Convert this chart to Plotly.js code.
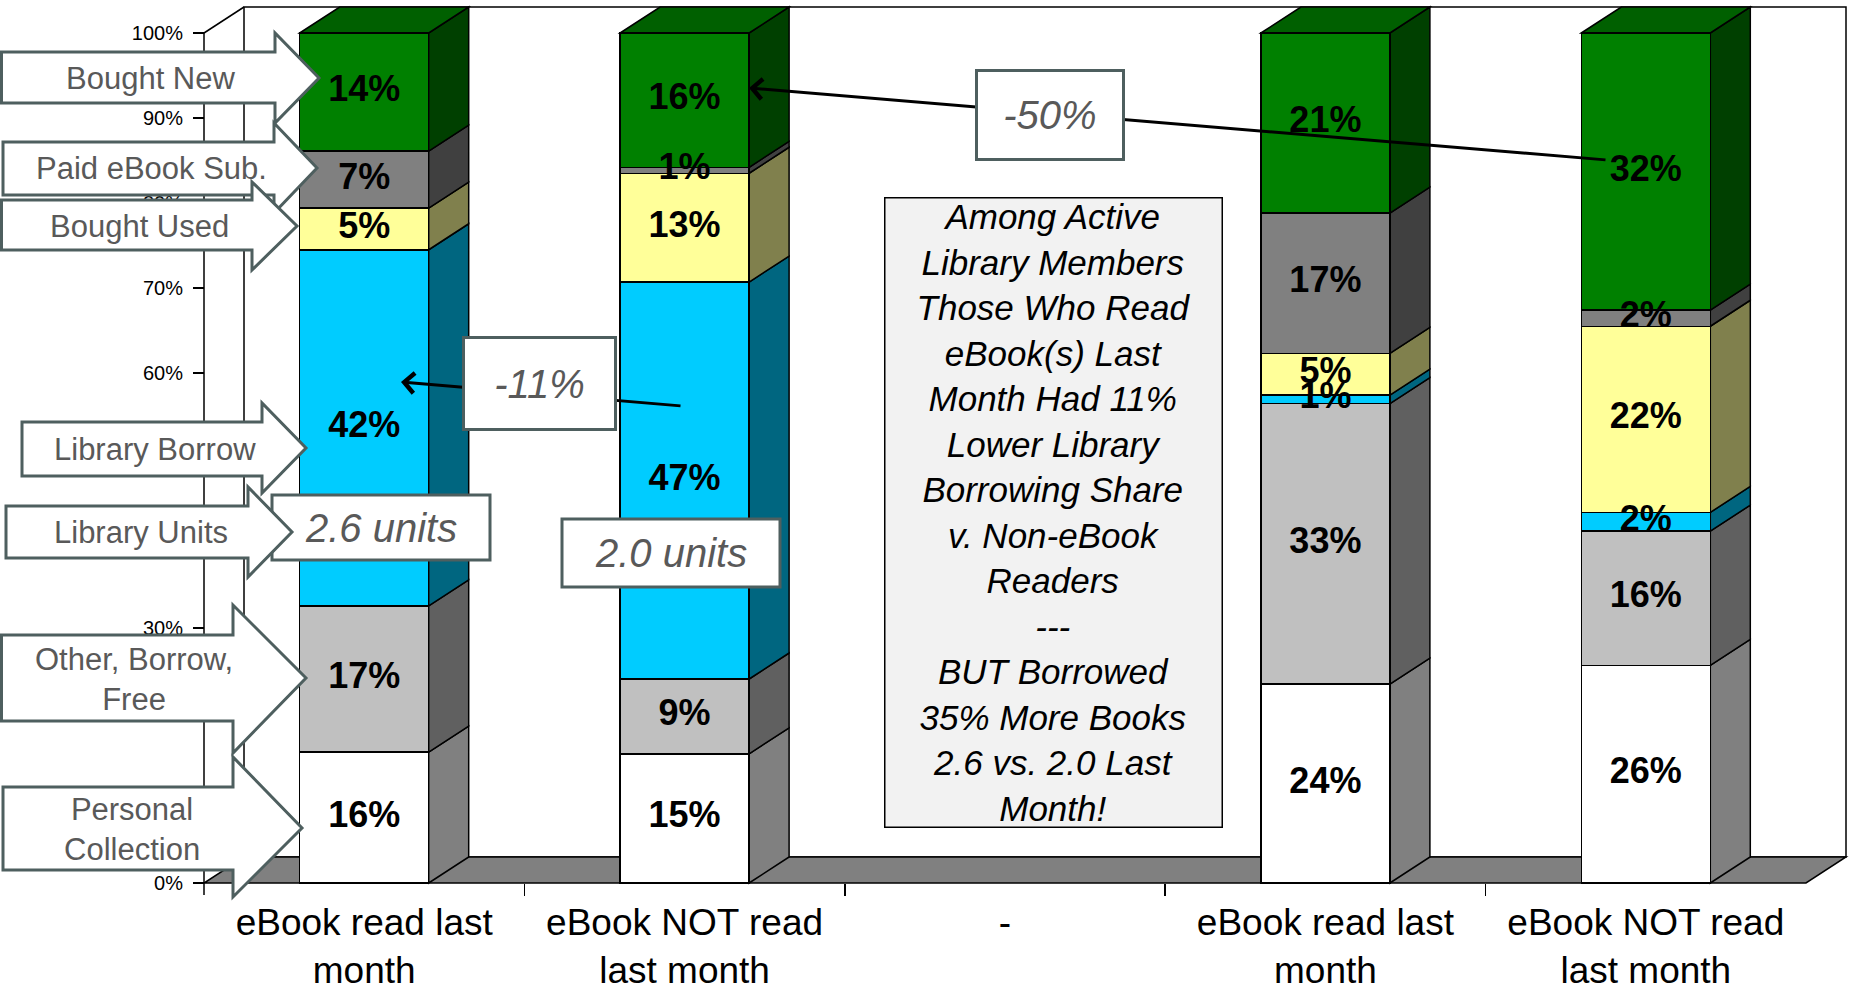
<!DOCTYPE html>
<html>
<head>
<meta charset="utf-8">
<script src="https://cdn.plot.ly/plotly-3.0.1.min.js"></script>
<style>
html,body{margin:0;padding:0;background:#ffffff;overflow:hidden;}
#chart{width:1853px;height:989px;}
</style>
</head>
<body>
<div id="chart"></div>
<script>
// ------------------------- DATA -------------------------
const categories = [
  "eBook read last<br>month",
  "eBook NOT read<br>last month",
  "-",
  "eBook read last<br>month",
  "eBook NOT read<br>last month"
];
const seriesNames = ["Personal Collection", "Other, Borrow, Free", "Library Borrow",
                     "Bought Used", "Paid eBook Sub.", "Bought New"];
// shares (%), bottom segment first
const personal   = [15.4, 15.2, null, 23.4, 25.6];
const otherFree  = [17.2,  8.8, null, 33.0, 15.8];
const libBorrow  = [41.9, 46.7, null,  1.0,  2.2];
const boughtUsed = [ 4.9, 12.8, null,  4.9, 21.9];
const paidSub    = [ 6.7,  0.7, null, 16.5,  1.9];
const boughtNew  = [13.9, 15.8, null, 21.2, 32.6];
// data labels as printed on the chart
const personalLbl = ["16%", "15%", "", "24%", "26%"];
const otherLbl    = ["17%", "9%",  "", "33%", "16%"];
const borrowLbl   = ["42%", "47%", "", "1%",  "2%"];
const usedLbl     = ["5%",  "13%", "", "5%",  "22%"];
const paidLbl     = ["7%",  "1%",  "", "17%", "2%"];
const newLbl      = ["14%", "16%", "", "21%", "32%"];
const yTickVals   = [0, 10, 20, 30, 40, 50, 60, 70, 80, 90, 100];
const yTickText   = ["0%", "10%", "20%", "30%", "40%", "50%", "60%", "70%", "80%", "90%", "100%"];

// ------------------------- STYLE / LAYOUT -------------------------
const FONT = "Liberation Sans, Arial, sans-serif";
const frontColors = ["#FFFFFF", "#C0C0C0", "#00CCFF", "#FFFF99", "#808080", "#008000"];
const sideColors  = ["#808080", "#606060", "#006680", "#80804D", "#404040", "#004000"];
const topColors   = ["#C0C0C0", "#909090", "#0099C0", "#C0C073", "#606060", "#006000"];
const CALLOUT_LINE = "#4E5F5F";
const CALLOUT_TEXT = "#595959";

const W = 1853, H = 989;
const EDGE_L_PX = 204, EDGE_R_PX = 1806;   // front floor edges (pixels)
const Y0_PX = 883, Y100_PX = 33;           // 0% and 100% (pixels)
const NC = categories.length;
const PPX = (EDGE_R_PX - EDGE_L_PX) / NC;  // pixels per category unit
const PPY = (Y0_PX - Y100_PX) / 100;       // pixels per percent
const X0 = -0.5, X1 = NC - 0.5;
const xRange = [X0 - EDGE_L_PX / PPX, X1 + (W - EDGE_R_PX) / PPX];
const yRange = [-(H - Y0_PX) / PPY, 100 + Y100_PX / PPY];
const DX = 40 / PPX, DY = 26 / PPY;        // 3-D depth
const BAR_W = 129 / PPX;

const px = v => v / W;           // pixel -> paper x
const py = v => 1 - v / H;       // pixel -> paper y
const P = pts => "M" + pts.map(p => p[0] + "," + p[1]).join("L") + "Z";

const series = [personal, otherFree, libBorrow, boughtUsed, paidSub, boughtNew];
const labels = [personalLbl, otherLbl, borrowLbl, usedLbl, paidLbl, newLbl];
const xs = categories.map((_, i) => i);

// cumulative bases
const bases = series.map(() => []);
xs.forEach(i => {
  let acc = 0;
  series.forEach((vals, s) => {
    bases[s][i] = vals[i] == null ? null : acc;
    if (vals[i] != null) acc += vals[i];
  });
});

// ------------------------- TRACES -------------------------
const traces = [];
series.forEach((vals, s) => {
  traces.push({
    type: "bar", x: xs, y: vals, width: BAR_W, name: seriesNames[s],
    marker: {color: frontColors[s], line: {color: "#000000", width: 1.5}},
    hoverinfo: "skip", showlegend: false
  });
});
series.forEach((vals, s) => {
  traces.push({
    type: "scatter", mode: "text", x: xs,
    y: vals.map((v, i) => v == null ? null : bases[s][i] + v / 2),
    text: labels[s], textposition: "middle center",
    textfont: {family: FONT, size: 36, color: "#000000", weight: "bold"},
    hoverinfo: "skip", showlegend: false, cliponaxis: false
  });
});

// ------------------------- SHAPES -------------------------
const shapes = [];
const dataShape = (path, fill, extra) => Object.assign({
  type: "path", xref: "x", yref: "y", layer: "below", path: path,
  fillcolor: fill, line: {color: "#000000", width: 1.5}
}, extra || {});

// back wall
shapes.push(dataShape(P([[X0 + DX, DY], [X0 + DX, 100 + DY], [X1 + DX, 100 + DY], [X1 + DX, DY]]), "#FFFFFF"));
// floor
shapes.push(dataShape(P([[X0, 0], [X1, 0], [X1 + DX, DY], [X0 + DX, DY]]), "#808080"));
// left wall top edge and y axis line
shapes.push({type: "line", xref: "x", yref: "y", layer: "below", x0: X0, y0: 100, x1: X0 + DX, y1: 100 + DY,
             line: {color: "#000000", width: 1.5}});
shapes.push({type: "line", xref: "x", yref: "y", layer: "below", x0: X0, y0: 100, x1: X0, y1: -12 / PPY,
             line: {color: "#000000", width: 1.5}});

// 3-D side and top faces of the bars
xs.forEach(i => {
  const xl = i - BAR_W / 2, xr = i + BAR_W / 2;
  let lastS = -1;
  series.forEach((vals, s) => { if (vals[i] != null) lastS = s; });
  series.forEach((vals, s) => {
    if (vals[i] == null) return;
    const b = bases[s][i], t = b + vals[i];
    shapes.push(dataShape(P([[xr, b], [xr + DX, b + DY], [xr + DX, t + DY], [xr, t]]), sideColors[s]));
    if (s === lastS) {
      shapes.push(dataShape(P([[xl, t], [xl + DX, t + DY], [xr + DX, t + DY], [xr, t]]), topColors[s]));
    }
  });
});

// callout arrows on the left (pixel geometry)
const callouts = [
  {text: "Bought New",           x0: 1.5, x1: 275, top: 52,  bot: 103, hTop: 33,  hBot: 123, tipX: 319, tipY: 78,  tx: 150, ty: 79},
  {text: "Paid eBook Sub.",      x0: 3,   x1: 274, top: 142, bot: 195, hTop: 123, hBot: 213, tipX: 317, tipY: 168, tx: 151, ty: 168},
  {text: "Bought Used",          x0: 1.5, x1: 252, top: 200, bot: 250, hTop: 182, hBot: 270, tipX: 297, tipY: 226, tx: 139, ty: 227},
  {text: "Library Borrow",       x0: 22,  x1: 262, top: 422, bot: 476, hTop: 403, hBot: 493, tipX: 306, tipY: 448, tx: 155, ty: 449},
  {text: "Library Units",        x0: 6,   x1: 248, top: 506, bot: 558, hTop: 487, hBot: 577, tipX: 292, tipY: 532, tx: 141, ty: 532},
  {text: "Other, Borrow,<br>Free", x0: 1.5, x1: 233, top: 635, bot: 721, hTop: 605, hBot: 753, tipX: 306, tipY: 678, tx: 134, ty: 679},
  {text: "Personal<br>Collection", x0: 3, x1: 233, top: 787, bot: 870, hTop: 757, hBot: 897, tipX: 302, tipY: 828, tx: 132, ty: 829}
];
// value boxes drawn as shapes (the callout arrow overlaps the 2.6 box)
const unitBoxes = [
  {text: "2.6 units", x0: 272, x1: 490, y0: 495, y1: 560},
  {text: "2.0 units", x0: 562, x1: 780, y0: 519, y1: 587}
];
const boxShape = b => ({type: "rect", xref: "paper", yref: "paper", layer: "above",
  x0: px(b.x0), x1: px(b.x1), y0: py(b.y1), y1: py(b.y0),
  fillcolor: "#FFFFFF", line: {color: CALLOUT_LINE, width: 3}});
shapes.push(boxShape(unitBoxes[0]));
shapes.push(boxShape(unitBoxes[1]));
callouts.forEach(c => {
  const pts = [[c.x0, c.top], [c.x1, c.top], [c.x1, c.hTop], [c.tipX, c.tipY], [c.x1, c.hBot],
               [c.x1, c.bot], [c.x0, c.bot]].map(p => [px(p[0]), py(p[1])]);
  shapes.push({type: "path", xref: "paper", yref: "paper", layer: "above", path: P(pts),
               fillcolor: "#FFFFFF", line: {color: CALLOUT_LINE, width: 3}});
});

// ------------------------- ANNOTATIONS -------------------------
const annotations = [];
const italicFont = (size, color) => ({family: FONT, size: size, color: color, style: "italic"});

// arrow lines
[
  {hx: 749, hy: 88,  tx: 1607, ty: 160},
  {hx: 401, hy: 382, tx: 682,  ty: 406}
].forEach(a => annotations.push({
  xref: "paper", yref: "paper", x: px(a.hx), y: py(a.hy), axref: "pixel", ayref: "pixel",
  ax: a.tx - a.hx, ay: a.ty - a.hy, text: "", showarrow: true, arrowhead: 4,
  arrowsize: 1.3, arrowwidth: 3, arrowcolor: "#000000", standoff: 0
}));
// boxed changes
[
  {text: "-50%", cx: 1049.5, cy: 115.5, w: 147, h: 89},
  {text: "-11%", cx: 539,    cy: 383,   w: 152, h: 92}
].forEach(b => annotations.push({
  xref: "paper", yref: "paper", x: px(b.cx), y: py(b.cy), xanchor: "center", yanchor: "middle",
  text: b.text, showarrow: false, font: italicFont(40, CALLOUT_TEXT),
  bgcolor: "#FFFFFF", bordercolor: CALLOUT_LINE, borderwidth: 3, borderpad: 0,
  width: b.w - 3, height: b.h - 3
}));
// unit box texts
unitBoxes.forEach(b => annotations.push({
  xref: "paper", yref: "paper", x: px((b.x0 + b.x1) / 2), y: py((b.y0 + b.y1) / 2),
  xanchor: "center", yanchor: "middle", text: b.text, showarrow: false,
  font: italicFont(40, CALLOUT_TEXT)
}));
// callout texts
callouts.forEach(c => annotations.push({
  xref: "paper", yref: "paper", x: px(c.tx), y: py(c.ty), xanchor: "center", yanchor: "middle",
  text: c.text, showarrow: false, font: {family: FONT, size: 31, color: CALLOUT_TEXT}
}));
// commentary box
const noteLines = ["Among Active", "Library Members", "Those Who Read", "eBook(s) Last",
  "Month Had 11%", "Lower Library", "Borrowing Share", "v. Non-eBook", "Readers", "---",
  "BUT Borrowed", "35% More Books", "2.6 vs. 2.0 Last", "Month!"];
annotations.push({
  xref: "paper", yref: "paper", x: px(1053.5), y: py(512), xanchor: "center", yanchor: "middle",
  text: noteLines.join("<br>"), showarrow: false, align: "center",
  font: italicFont(35, "#000000"), bgcolor: "#F2F2F2", bordercolor: "#000000",
  borderwidth: 1.5, borderpad: 0, width: 336, height: 628
});

// ------------------------- LAYOUT -------------------------
const layout = {
  width: W, height: H,
  margin: {l: 0, r: 0, t: 0, b: 0, pad: 0},
  paper_bgcolor: "#FFFFFF", plot_bgcolor: "#FFFFFF",
  barmode: "stack", showlegend: false,
  font: {family: FONT, color: "#000000"},
  xaxis: {
    range: xRange, anchor: "free", position: (H - Y0_PX) / H,
    showgrid: false, zeroline: false, showline: false, fixedrange: true,
    tickmode: "array", tickvals: xs, ticktext: categories, ticks: "",
    tickfont: {family: FONT, size: 37, color: "#000000"}, ticklabelstandoff: 14,
    minor: {tickmode: "array", tickvals: [0.5, 1.5, 2.5, 3.5], ticks: "outside",
            ticklen: 12, tickwidth: 1.5, tickcolor: "#000000", showgrid: false}
  },
  yaxis: {
    range: yRange, anchor: "free", position: EDGE_L_PX / W,
    showgrid: false, zeroline: false, showline: false, fixedrange: true,
    tickmode: "array", tickvals: yTickVals, ticktext: yTickText,
    ticks: "outside", ticklen: 11, tickwidth: 1.5, tickcolor: "#000000",
    tickfont: {family: FONT, size: 20, color: "#000000"}, ticklabelstandoff: 6
  },
  shapes: shapes,
  annotations: annotations
};

Plotly.newPlot("chart", traces, layout, {staticPlot: true, displayModeBar: false});
</script>
</body>
</html>
